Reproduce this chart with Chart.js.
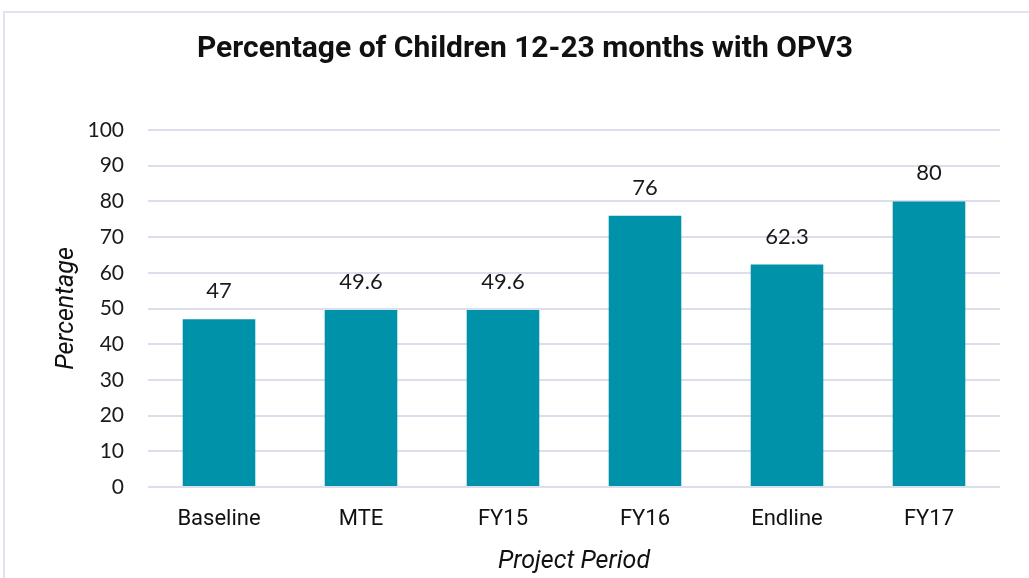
<!DOCTYPE html>
<html>
<head>
<meta charset="utf-8">
<script src="https://cdn.jsdelivr.net/npm/chart.js@4"></script>
<style>
  body { margin: 0; background: #fff; overflow: hidden; }
  .frame {
    position: absolute; left: 3px; top: 11px; width: 1100px; height: 700px;
    border-top: 2px solid #e2e4ed; border-left: 2px solid #e2e4ed;
  }
  .wrap { position: absolute; left: 0; top: 0; width: 1029px; height: 578px; }
</style>
</head>
<body>
<div class="frame"></div>
<div class="wrap"><canvas id="myChart" width="1029" height="578"></canvas></div>
<script>
const periodos = ["Baseline", "MTE", "FY15", "FY16", "Endline", "FY17"];
const valores = [47, 49.6, 49.6, 76, 62.3, 80];
const etiquetas = ["47", "49.6", "49.6", "76", "62.3", "80"];

const colorBarra = "#0092a8";
const colorGrilla = "#dcdeeb";

// escribe el valor encima de cada barra
const etiquetasBarras = {
  id: "etiquetasBarras",
  afterDatasetsDraw(chart) {
    const ctx = chart.ctx;
    const meta = chart.getDatasetMeta(0);
    ctx.save();
    ctx.font = "22px Lato, 'Open Sans', sans-serif";
    ctx.fillStyle = "#1a1a1a";
    ctx.textAlign = "center";
    ctx.textBaseline = "middle";
    meta.data.forEach((barra, i) => {
      ctx.fillText(etiquetas[i], barra.x, barra.y - 28);
    });
    ctx.restore();
  },
};

const config = {
  type: "bar",
  data: {
    labels: periodos,
    datasets: [
      {
        label: "OPV3",
        data: valores,
        backgroundColor: colorBarra,
        barPercentage: 0.72,
        categoryPercentage: 0.71,
      },
    ],
  },
  options: {
    responsive: false,
    animation: false,
    layout: { padding: { left: 50, right: 29, top: 0, bottom: 0 } },
    plugins: {
      legend: { display: false },
      tooltip: { enabled: false },
      title: {
        display: true,
        text: "Percentage of Children 12-23 months with OPV3",
        color: "#111",
        font: { family: "Roboto, 'Liberation Sans', sans-serif", size: 30, weight: "bold" },
        padding: { top: 31, bottom: 63 },
      },
    },
    scales: {
      x: {
        grid: { display: false, drawTicks: false },
        border: { display: false },
        ticks: {
          padding: 19,
          color: "#111",
          font: { family: "Roboto, sans-serif", size: 22 },
        },
        title: {
          display: true,
          text: "Project Period",
          color: "#111",
          font: { family: "Roboto, sans-serif", size: 25, style: "italic" },
          padding: { top: 0, bottom: 1 },
        },
        afterFit(scale) {
          scale.height = 91;
        },
      },
      y: {
        min: 0,
        max: 100,
        ticks: {
          stepSize: 10,
          padding: 24,
          color: "#1a1a1a",
          font: { family: "Lato, 'Open Sans', sans-serif", size: 21 },
        },
        grid: { color: colorGrilla, lineWidth: 2, drawTicks: false },
        border: { display: false },
        title: {
          display: true,
          text: "Percentage",
          color: "#111",
          font: { family: "Roboto, sans-serif", size: 25, style: "italic" },
          padding: { top: 2, bottom: 0 },
        },
        afterFit(scale) {
          scale.width = 98;
        },
      },
    },
  },
  plugins: [etiquetasBarras],
};

const myChart = document.querySelector("#myChart");
new Chart(myChart, config);
</script>
</body>
</html>
